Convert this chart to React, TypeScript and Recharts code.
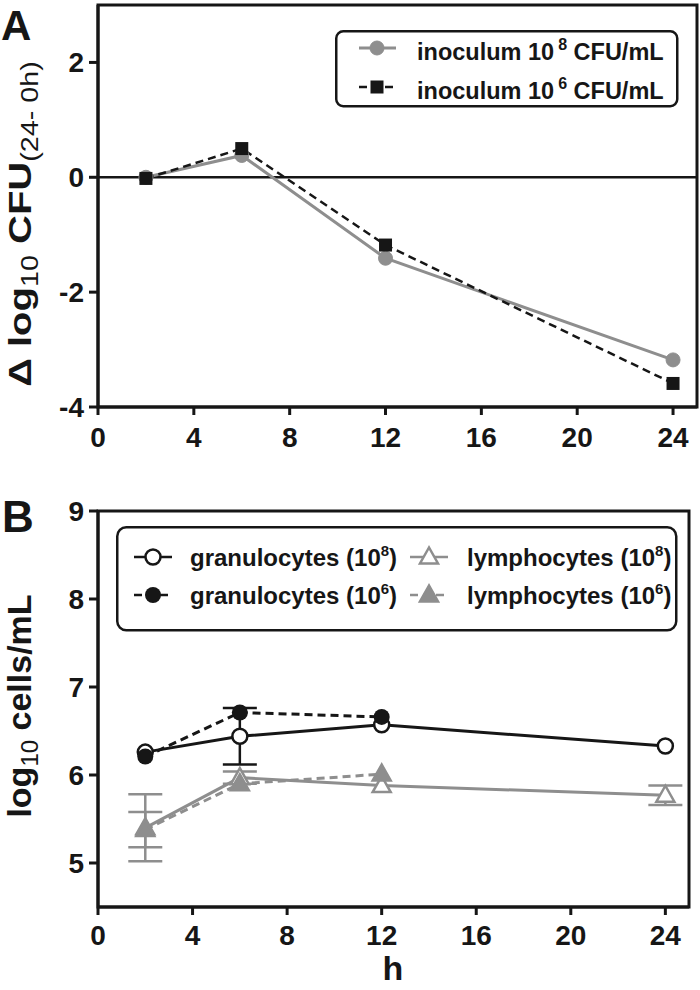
import React from "react";
import {
  LineChart,
  Line,
  XAxis,
  YAxis,
  ReferenceLine,
  ReferenceArea,
  ErrorBar,
  Legend,
} from "recharts";

// sampling times (h)
const hours = [2, 6, 12, 24];
const xTicks = [0, 4, 8, 12, 16, 20, 24];

// panel A: delta log10 CFU
const inoc8 = [0.0, 0.38, -1.41, -3.18];
const inoc6 = [-0.02, 0.5, -1.18, -3.59];
const ticksA = [-4, -2, 0, 2];

// panel B: log10 cells/mL
const gran8 = [6.26, 6.44, 6.57, 6.33];
const gran8Err = [null, 0.32, null, null];
const gran6 = [6.21, 6.71, 6.66, null];
const lymph8 = [5.4, 5.97, 5.88, 5.77];
const lymph8Err = [0.38, 0.07, null, 0.11];
const lymph6 = [5.38, 5.9, 6.01, null];
const lymph6Err = [0.2, null, null, null];
const ticksB = [5, 6, 7, 8, 9];

const dataA = hours.map((h, i) => ({ h, inoc8: inoc8[i], inoc6: inoc6[i] }));
const dataB = hours.map((h, i) => ({
  h,
  gran8: gran8[i],
  gran8Err: gran8Err[i],
  gran6: gran6[i],
  lymph8: lymph8[i],
  lymph8Err: lymph8Err[i],
  lymph6: lymph6[i],
  lymph6Err: lymph6Err[i],
}));

const GRAY = "#8e8e8e";
const INK = "#161616";
const FONT = "'Liberation Sans', Arial, Helvetica, sans-serif";

const tickStyle = { fill: INK, fontSize: 28, fontWeight: "bold", fontFamily: FONT };
const axisStroke = { stroke: INK, strokeWidth: 3 };

function marker(kind: string, cx: number, cy: number, key?: any) {
  switch (kind) {
    case "gcircle":
      return <circle key={key} cx={cx} cy={cy} r={7} fill={GRAY} stroke={GRAY} />;
    case "square":
      return <rect key={key} x={cx - 6.5} y={cy - 6.5} width={13} height={13} fill={INK} />;
    case "ocircle":
      return <circle key={key} cx={cx} cy={cy} r={7.5} fill="#fff" stroke={INK} strokeWidth={2.5} />;
    case "fcircle":
      return <circle key={key} cx={cx} cy={cy} r={8} fill={INK} />;
    case "otri":
    case "ftri":
      return (
        <polygon
          key={key}
          points={`${cx},${cy - 9.5} ${cx - 9},${cy + 6.5} ${cx + 9},${cy + 6.5}`}
          fill={kind === "otri" ? "#fff" : GRAY}
          stroke={GRAY}
          strokeWidth={2.5}
          strokeLinejoin="miter"
        />
      );
  }
  return null;
}

const dot = (kind: string) => (p: any) => {
  const { cx, cy, index } = p;
  if (!Number.isFinite(cx) || !Number.isFinite(cy)) return <g key={`e${index}`} />;
  return marker(kind, cx, cy, `d${index}`);
};

const seriesA = [
  { key: "inoc8", color: GRAY, dash: undefined, kind: "gcircle", width: 3, sup: "8" },
  { key: "inoc6", color: INK, dash: "8 5", kind: "square", width: 2.5, sup: "6" },
];

const seriesB = [
  { key: "gran8", color: INK, dash: undefined, kind: "ocircle", name: "granulocytes", sup: "8" },
  { key: "gran6", color: INK, dash: "8 5", kind: "fcircle", name: "granulocytes", sup: "6" },
  { key: "lymph8", color: GRAY, dash: undefined, kind: "otri", name: "lymphocytes", sup: "8" },
  { key: "lymph6", color: GRAY, dash: "8 5", kind: "ftri", name: "lymphocytes", sup: "6" },
];

function LegendA() {
  return (
    <svg width={344} height={78} style={{ display: "block", overflow: "visible" }}>
      <rect x={1.25} y={1.25} width={341} height={75} rx={7} fill="#fff" stroke={INK} strokeWidth={2.5} />
      {seriesA.map((s, i) => {
        const y = 18 + i * 39;
        return (
          <g key={s.key}>
            <line x1={24} x2={61} y1={y} y2={y} stroke={s.color} strokeWidth={s.width} strokeDasharray={s.dash} />
            {marker(s.kind, 42, y)}
            <text x={82} y={y + 12} fontFamily={FONT} fontSize={23.5} fontWeight="bold" fill={INK}>
              inoculum 10
              <tspan dx={4} dy={-10} fontSize={16}>{s.sup}</tspan>
              <tspan dy={10}> CFU/mL</tspan>
            </text>
          </g>
        );
      })}
    </svg>
  );
}

function LegendB() {
  return (
    <svg width={562} height={106} style={{ display: "block", overflow: "visible" }}>
      <rect x={1.25} y={1.25} width={559} height={103} rx={9} fill="#fff" stroke={INK} strokeWidth={2.5} />
      {seriesB.map((s, i) => {
        const col = Math.floor(i / 2);
        const row = i % 2;
        const x0 = col === 0 ? 18 : 294;
        const tx = col === 0 ? 74 : 351;
        const y = 31 + row * 38;
        return (
          <g key={s.key}>
            <line x1={x0} x2={x0 + 38} y1={y} y2={y} stroke={s.color} strokeWidth={2.5} strokeDasharray={s.dash} />
            {marker(s.kind, x0 + 19, y)}
            <text x={tx} y={y + 9} fontFamily={FONT} fontSize={24} fontWeight="bold" fill={INK}>
              {s.name} (10
              <tspan dy={-10} fontSize={15}>{s.sup}</tspan>
              <tspan dy={10}>)</tspan>
            </text>
          </g>
        );
      })}
    </svg>
  );
}

function TitleA() {
  return (
    <g fontFamily={FONT} fill={INK}>
      <text x={1} y={40} fontSize={42} fontWeight="bold">A</text>
      <text
        transform="translate(31,224) rotate(-90) scale(1.25,1)"
        textAnchor="middle"
        fontSize={32}
        fontWeight="bold"
      >
        Δ log
        <tspan dy={7} fontSize={23} fontWeight="normal">10</tspan>
        <tspan dy={-7}> CFU</tspan>
        <tspan dy={7} fontSize={23} fontWeight="normal">(24- 0h)</tspan>
      </text>
    </g>
  );
}

function TitleB() {
  return (
    <g fontFamily={FONT} fill={INK}>
      <text x={2} y={82} fontSize={44} fontWeight="bold">B</text>
      <text transform="translate(31,256) rotate(-90)" textAnchor="middle" fontSize={34} fontWeight="bold">
        log
        <tspan dy={7} fontSize={24} fontWeight="normal">10</tspan>
        <tspan dy={-7}> cells/mL</tspan>
      </text>
    </g>
  );
}

function HourLabel() {
  return (
    <text x={393} y={530} textAnchor="middle" fontFamily={FONT} fontSize={34} fontWeight="bold" fill={INK}>
      h
    </text>
  );
}

export default function App() {
  return (
    <div style={{ position: "absolute", left: 0, top: 0, width: 700, height: 990, background: "#fff" }}>
      <div style={{ position: "absolute", left: 0, top: 0 }}>
        <LineChart width={700} height={480} data={dataA} margin={{ top: 5, right: 3, bottom: 0, left: 0 }}>
          <XAxis
            dataKey="h"
            type="number"
            domain={[0, 25]}
            ticks={xTicks}
            allowDataOverflow
            height={73}
            tick={tickStyle}
            tickSize={8}
            tickMargin={12}
            axisLine={axisStroke}
            tickLine={axisStroke}
          />
          <YAxis
            type="number"
            domain={[-4, 3]}
            ticks={ticksA}
            allowDataOverflow
            width={98}
            tick={tickStyle}
            tickSize={9}
            tickMargin={5}
            axisLine={axisStroke}
            tickLine={axisStroke}
            label={<TitleA />}
          />
          <ReferenceArea x1={0} x2={25} y1={-4} y2={3} fill="none" stroke={INK} strokeWidth={3} />
          <ReferenceLine y={0} stroke={INK} strokeWidth={2.5} />
          {seriesA.map((s) => (
            <Line
              key={s.key}
              dataKey={s.key}
              stroke={s.color}
              strokeWidth={s.width}
              strokeDasharray={s.dash}
              dot={dot(s.kind)}
              activeDot={false}
              isAnimationActive={false}
            />
          ))}
          <Legend
            layout="horizontal"
            verticalAlign="middle"
            align="center"
            content={<LegendA />}
            wrapperStyle={{ left: 335, top: 30, width: 344, height: 78 }}
          />
        </LineChart>
      </div>
      <div style={{ position: "absolute", left: 0, top: 450 }}>
        <LineChart width={700} height={540} data={dataB} margin={{ top: 61, right: 11, bottom: 0, left: 0 }}>
          <XAxis
            dataKey="h"
            type="number"
            domain={[0, 25]}
            ticks={xTicks}
            allowDataOverflow
            height={83}
            tick={tickStyle}
            tickSize={8}
            tickMargin={10}
            axisLine={axisStroke}
            tickLine={axisStroke}
            label={<HourLabel />}
          />
          <YAxis
            type="number"
            domain={[4.5, 9]}
            ticks={ticksB}
            allowDataOverflow
            width={98}
            tick={tickStyle}
            tickSize={9}
            tickMargin={5}
            axisLine={axisStroke}
            tickLine={axisStroke}
            label={<TitleB />}
          />
          <ReferenceArea x1={0} x2={25} y1={4.5} y2={9} fill="none" stroke={INK} strokeWidth={3} />
          {seriesB.map((s) => (
            <Line
              key={s.key}
              dataKey={s.key}
              stroke={s.color}
              strokeWidth={3}
              strokeDasharray={s.dash}
              dot={dot(s.kind)}
              activeDot={false}
              isAnimationActive={false}
            >
              {s.key !== "gran6" && (
                <ErrorBar dataKey={`${s.key}Err`} direction="y" width={17} stroke={s.color} strokeWidth={2.5} />
              )}
            </Line>
          ))}
          <Legend
            layout="horizontal"
            verticalAlign="middle"
            align="center"
            content={<LegendB />}
            wrapperStyle={{ left: 116, top: 76, width: 562, height: 106 }}
          />
        </LineChart>
      </div>
    </div>
  );
}
